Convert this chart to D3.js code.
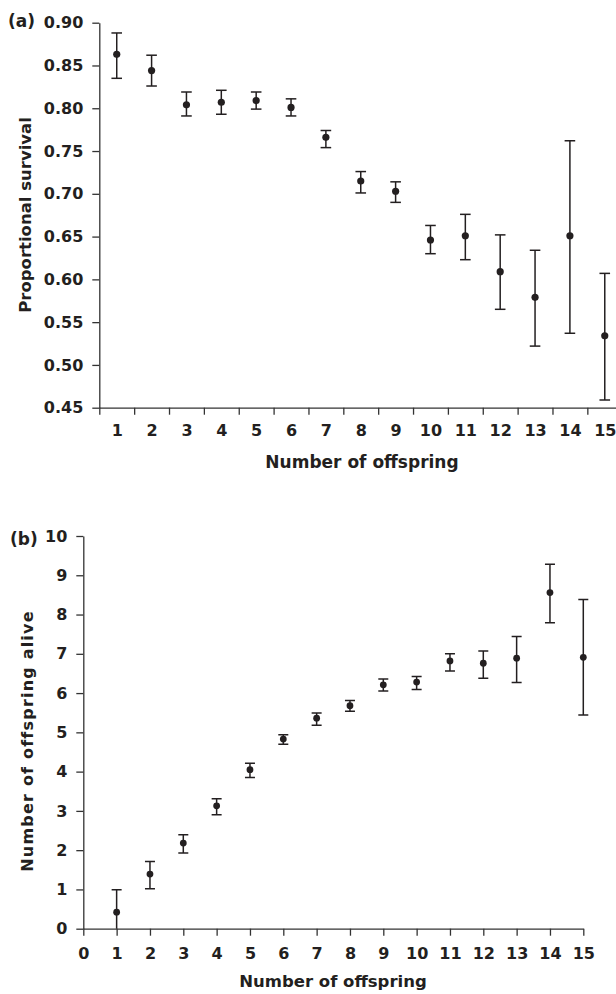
<!DOCTYPE html>
<html>
<head>
<meta charset="utf-8">
<script src="https://cdn.jsdelivr.net/npm/d3@7"></script>
<style>
  body { margin: 0; background: #fff; }
  svg { display: block; }
  text { font-family: 'DejaVu Sans', sans-serif; font-weight: bold; fill: #231f20; }
  .axis path, .axis line { stroke: #333; stroke-width: 1.3; }
  .axis text { font-size: 16px; font-family: 'DejaVu Sans', sans-serif; font-weight: bold; fill: #231f20; }
</style>
</head>
<body>
<svg width="616" height="994"></svg>
<script>
let offspring = [1, 2, 3, 4, 5, 6, 7, 8, 9, 10, 11, 12, 13, 14, 15]

// panel (a): proportional survival, mean and error bar ends
let survMean = [0.863, 0.844, 0.804, 0.807, 0.809, 0.801, 0.766, 0.715, 0.703, 0.646, 0.651, 0.609, 0.579, 0.651, 0.534]
let survHigh = [0.888, 0.862, 0.819, 0.821, 0.819, 0.811, 0.774, 0.726, 0.714, 0.663, 0.676, 0.652, 0.634, 0.762, 0.607]
let survLow  = [0.835, 0.826, 0.791, 0.793, 0.799, 0.791, 0.754, 0.701, 0.690, 0.630, 0.623, 0.565, 0.522, 0.537, 0.459]
let survTicks = [0.45, 0.50, 0.55, 0.60, 0.65, 0.70, 0.75, 0.80, 0.85, 0.90]

// panel (b): number of offspring alive
let aliveMean = [0.42, 1.39, 2.18, 3.13, 4.05, 4.83, 5.36, 5.68, 6.21, 6.28, 6.82, 6.76, 6.89, 8.56, 6.91]
let aliveHigh = [0.99, 1.71, 2.39, 3.31, 4.21, 4.94, 5.49, 5.81, 6.36, 6.42, 7.00, 7.07, 7.44, 9.28, 8.38]
let aliveLow  = [-0.15, 1.02, 1.93, 2.90, 3.85, 4.70, 5.18, 5.54, 6.05, 6.09, 6.56, 6.38, 6.27, 7.79, 5.44]
let aliveTicks = [0, 1, 2, 3, 4, 5, 6, 7, 8, 9, 10]
let aliveXTicks = [0, 1, 2, 3, 4, 5, 6, 7, 8, 9, 10, 11, 12, 13, 14, 15]

let svg = d3.select('svg')
let dark = '#231f20'

// ---------- panel (a) ----------
let xA = d3.scaleLinear().domain([0.5, 15.5]).range([99.3, 622.2])
let yA = d3.scaleLinear().domain([0.45, 0.90]).range([407.7, 22.7])

svg.append('g')
    .attr('class', 'axis')
    .attr('transform', 'translate(0, 407.7)')
    .call(d3.axisBottom(xA)
      .tickValues(offspring.map(d => d - 0.5))
      .tickFormat('')
      .tickSize(7)
      .tickSizeOuter(0))

svg.append('g')
    .attr('class', 'axis')
    .attr('transform', 'translate(0, 407.7)')
    .call(d3.axisBottom(xA)
      .tickValues(offspring)
      .tickSize(0)
      .tickPadding(17))
  .call(g => g.select('.domain').remove())

svg.append('g')
    .attr('class', 'axis')
    .attr('transform', 'translate(99.3, 0)')
    .call(d3.axisLeft(yA)
      .tickValues(survTicks)
      .tickFormat(d3.format('.2f'))
      .tickSize(7)
      .tickSizeOuter(0)
      .tickPadding(9))

let dataA = offspring.map((n, i) => ({ n, m: survMean[i], hi: survHigh[i], lo: survLow[i] }))

let barsA = svg.append('g').selectAll('g').data(dataA).enter().append('g')
barsA.append('line')
    .attr('x1', d => xA(d.n)).attr('x2', d => xA(d.n))
    .attr('y1', d => yA(d.hi)).attr('y2', d => yA(d.lo))
    .attr('stroke', dark).attr('stroke-width', 1.5)
barsA.selectAll('.cap').data(d => [[d.n, d.hi], [d.n, d.lo]]).enter().append('line')
    .attr('x1', d => xA(d[0]) - 5.3).attr('x2', d => xA(d[0]) + 5.3)
    .attr('y1', d => yA(d[1])).attr('y2', d => yA(d[1]))
    .attr('stroke', dark).attr('stroke-width', 1.5)
barsA.append('circle')
    .attr('cx', d => xA(d.n))
    .attr('cy', d => yA(d.m))
    .attr('r', 3.6)
    .attr('fill', dark)

svg.append('text')
    .attr('x', 8).attr('y', 27)
    .style('font-size', '17px')
    .text('(a)')

svg.append('text')
    .attr('x', 362).attr('y', 468)
    .style('text-anchor', 'middle')
    .style('font-size', '17px')
    .text('Number of offspring')

svg.append('text')
    .attr('transform', 'rotate(-90)')
    .attr('x', -215).attr('y', 31)
    .style('text-anchor', 'middle')
    .style('font-size', '16.5px')
    .text('Proportional survival')

// ---------- panel (b) ----------
let xB = d3.scaleLinear().domain([0, 15]).range([83.3, 583.3])
let yB = d3.scaleLinear().domain([0, 10]).range([928.7, 536])

svg.append('g')
    .attr('class', 'axis')
    .attr('transform', 'translate(0, 928.7)')
    .call(d3.axisBottom(xB)
      .tickValues(aliveXTicks)
      .tickFormat(d3.format('d'))
      .tickSize(7)
      .tickSizeOuter(0)
      .tickPadding(12))

svg.append('g')
    .attr('class', 'axis')
    .attr('transform', 'translate(83.3, 0)')
    .call(d3.axisLeft(yB)
      .tickValues(aliveTicks)
      .tickFormat(d3.format('d'))
      .tickSize(7)
      .tickSizeOuter(0)
      .tickPadding(9))

svg.append('clipPath').attr('id', 'clipB')
  .append('rect')
    .attr('x', xB(0)).attr('y', yB(10))
    .attr('width', xB(15) - xB(0) + 10).attr('height', yB(0) - yB(10))

let dataB = offspring.map((n, i) => ({ n, m: aliveMean[i], hi: aliveHigh[i], lo: aliveLow[i] }))

let barsB = svg.append('g').attr('clip-path', 'url(#clipB)').selectAll('g').data(dataB).enter().append('g')
barsB.append('line')
    .attr('x1', d => xB(d.n)).attr('x2', d => xB(d.n))
    .attr('y1', d => yB(d.hi)).attr('y2', d => yB(d.lo))
    .attr('stroke', dark).attr('stroke-width', 1.5)
barsB.selectAll('.cap').data(d => [[d.n, d.hi], [d.n, d.lo]]).enter().append('line')
    .attr('x1', d => xB(d[0]) - 5).attr('x2', d => xB(d[0]) + 5)
    .attr('y1', d => yB(d[1])).attr('y2', d => yB(d[1]))
    .attr('stroke', dark).attr('stroke-width', 1.5)
barsB.append('circle')
    .attr('cx', d => xB(d.n))
    .attr('cy', d => yB(d.m))
    .attr('r', 3.4)
    .attr('fill', dark)

svg.append('text')
    .attr('x', 10).attr('y', 545)
    .style('font-size', '17px')
    .text('(b)')

svg.append('text')
    .attr('x', 333).attr('y', 987)
    .style('text-anchor', 'middle')
    .style('font-size', '16.5px')
    .text('Number of offspring')

svg.append('text')
    .attr('transform', 'rotate(-90)')
    .attr('x', -741).attr('y', 33)
    .style('text-anchor', 'middle')
    .style('font-size', '16px')
    .style('letter-spacing', '1.2px')
    .text('Number of offspring alive')
</script>
</body>
</html>
